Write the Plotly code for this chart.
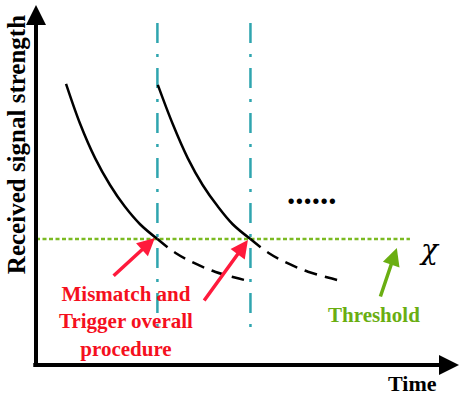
import plotly.graph_objects as go

# ---- data (time / signal units) ----
curve1_solid_t = [7.1, 10.4, 14.0, 17.5, 21.0, 24.6, 28.7]
curve1_solid_s = [78.1, 67.1, 57.4, 50.0, 44.0, 39.1, 35.0]
curve1_dash_t = [28.7, 32.9, 37.6, 42.3, 47.0, 50.4]
curve1_dash_s = [35.0, 31.2, 28.2, 25.9, 24.3, 23.3]

curve2_solid_t = [28.8, 32.3, 35.9, 39.4, 43.0, 46.5, 50.7]
curve2_solid_s = [77.8, 67.0, 57.4, 50.0, 44.0, 39.1, 35.0]
curve2_dash_t = [50.7, 54.9, 59.6, 64.3, 69.0, 71.9]
curve2_dash_s = [35.0, 31.2, 28.2, 25.9, 24.3, 23.4]

threshold_level = 35.0
threshold_t = [0.0, 88.4]
trigger_times = [28.7, 50.7]
trigger_span = [95.0, 10.3]

# annotation arrows: (tail_t, tail_s, tip_t, tip_s)
red_arrows = [(18.0, 24.4, 28.1, 35.3), (39.5, 17.5, 50.1, 34.7)]
green_arrow = (81.3, 18.6, 85.3, 32.5)

BLACK = "#000000"
TEAL = "#2FA5AF"
GREEN_LINE = "#7BBA22"
GREEN = "#6AAE12"
RED_ARROW = "#FF1A3C"
RED_TEXT = "#F5101E"
SERIF = "Liberation Serif, Times New Roman, serif"

fig = go.Figure()

# threshold line
fig.add_trace(go.Scatter(x=threshold_t, y=[threshold_level] * len(threshold_t), mode="lines",
                         line=dict(color=GREEN_LINE, width=2.3, dash="4px,2.5px"),
                         hoverinfo="skip"))
# trigger lines
for tt in trigger_times:
    fig.add_trace(go.Scatter(x=[tt, tt], y=trigger_span, mode="lines",
                             line=dict(color=TEAL, width=2.5, dash="20px,11px,3px,11px"),
                             hoverinfo="skip"))
# curves
for ts, ss, dash in [(curve1_solid_t, curve1_solid_s, "solid"),
                     (curve1_dash_t, curve1_dash_s, "13px,8px"),
                     (curve2_solid_t, curve2_solid_s, "solid"),
                     (curve2_dash_t, curve2_dash_s, "13px,8px")]:
    fig.add_trace(go.Scatter(x=ts, y=ss, mode="lines", line_shape="spline",
                             line=dict(color=BLACK, width=2.5, dash=dash),
                             hoverinfo="skip"))

anns = []
# axes with arrowheads
anns.append(dict(x=0, y=100, ax=0, ay=0, xref="x", yref="y", axref="x", ayref="y",
                 text="", showarrow=True, arrowhead=2, arrowwidth=4, arrowsize=1,
                 arrowcolor=BLACK, standoff=0))
anns.append(dict(x=100, y=0, ax=-1, ay=0, xref="x", yref="y", axref="x", ayref="y",
                 text="", showarrow=True, arrowhead=2, arrowwidth=4, arrowsize=1,
                 arrowcolor=BLACK, standoff=0))
for (t0, s0, t1, s1) in red_arrows:
    anns.append(dict(x=t1, y=s1, ax=t0, ay=s0, xref="x", yref="y", axref="x", ayref="y",
                     text="", showarrow=True, arrowhead=2, arrowwidth=3.5, arrowsize=1,
                     arrowcolor=RED_ARROW, standoff=0))
t0, s0, t1, s1 = green_arrow
anns.append(dict(x=t1, y=s1, ax=t0, ay=s0, xref="x", yref="y", axref="x", ayref="y",
                 text="", showarrow=True, arrowhead=2, arrowwidth=3.5, arrowsize=1,
                 arrowcolor=GREEN, standoff=0))

# texts
anns.append(dict(x=21.3, y=12.2, xref="x", yref="y", showarrow=False,
                 xanchor="center", yanchor="middle",
                 text="<b>Mismatch and<br>Trigger overall<br>procedure</b>",
                 font=dict(family=SERIF, size=21, color=RED_TEXT), align="center"))
anns.append(dict(x=79.9, y=13.9, xref="x", yref="y", showarrow=False,
                 xanchor="center", yanchor="middle",
                 text="<b>Threshold</b>", font=dict(family=SERIF, size=21, color=GREEN)))
anns.append(dict(x=0.889, y=-0.05, xref="paper", yref="paper", showarrow=False,
                 xanchor="center", yanchor="middle",
                 text="<b>Time</b>", font=dict(family=SERIF, size=22, color=BLACK)))
anns.append(dict(x=93.1, y=32.0, xref="x", yref="y", showarrow=False,
                 xanchor="center", yanchor="middle",
                 text="<i>χ</i>", font=dict(family="DejaVu Serif, serif", size=28, color=BLACK)))
anns.append(dict(x=65.2, y=47.9, xref="x", yref="y", showarrow=False,
                 xanchor="center", yanchor="middle",
                 text="<b>......</b>", font=dict(family=SERIF, size=33, color=BLACK)))
anns.append(dict(x=-0.047, y=0.611, xref="paper", yref="paper", showarrow=False, textangle=-90,
                 xanchor="center", yanchor="middle",
                 text="<b>Received signal strength</b>",
                 font=dict(family=SERIF, size=25, color=BLACK)))

fig.update_layout(
    width=463, height=397,
    margin=dict(l=36, r=4, t=5, b=32),
    paper_bgcolor="white", plot_bgcolor="white",
    showlegend=False,
    xaxis=dict(range=[0, 100], visible=False, fixedrange=True),
    yaxis=dict(range=[0, 100], visible=False, fixedrange=True),
    annotations=anns,
)

fig.write_html("out.html", config={"displayModeBar": False, "staticPlot": True},
               post_script="document.body.style.margin='0';document.body.style.overflow='hidden';")
